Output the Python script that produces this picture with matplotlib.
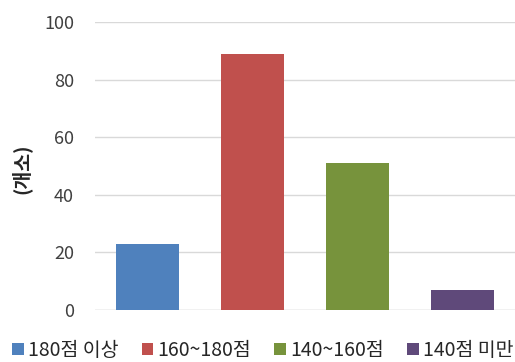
import matplotlib.pyplot as plt

plt.rcParams['font.family'] = ['Noto Sans CJK KR', 'DejaVu Sans']

# data
categories = ['180점 이상', '160~180점', '140~160점', '140점 미만']
counts = [23, 89, 51, 7]
colors = ['#4F81BD', '#C0504D', '#77933C', '#5F497A']

fig = plt.figure(figsize=(5.15, 3.62), dpi=100)
ax = fig.add_axes([0.184, 0.144, 0.816, 0.795])

for i, (cat, val) in enumerate(zip(categories, counts)):
    ax.bar(i, val, width=0.6, color=colors[i], label=cat, zorder=3)

ax.set_xlim(-0.5, 3.5)
ax.set_ylim(0, 100)
ax.set_yticks(range(0, 101, 20))
ax.set_xticks([])
ax.yaxis.grid(True, color='#D9D9D9', linewidth=1, zorder=0)
for s in ax.spines.values():
    s.set_visible(False)
ax.axhline(0, color='#D9D9D9', linewidth=1, zorder=2)
ax.tick_params(axis='y', length=0, labelsize=13, pad=15, colors='#404040')

fig.text(0.04, 0.535, '(개소)', rotation=90, fontsize=14, fontweight='bold',
         ha='center', va='center', color='#262626')

fig.legend(loc='center', bbox_to_anchor=(0.51, 0.032), ncol=4, frameon=False,
           fontsize=14, handlelength=0.6, handleheight=0.6, handletextpad=0.2,
           columnspacing=1.2, labelcolor='#262626')

fig.savefig('out.png', dpi=100)
